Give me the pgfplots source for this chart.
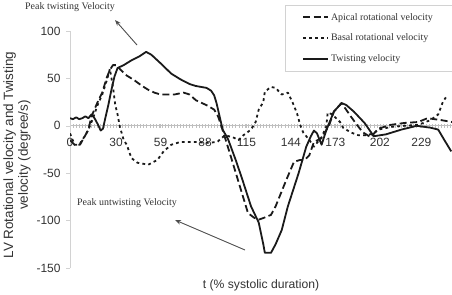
\documentclass[border=0pt]{standalone}
\usepackage{pgfplots}
\pgfplotsset{compat=1.18}
\usepackage{fontspec}
\setmainfont{Liberation Serif}
\setsansfont{Liberation Sans}
\usetikzlibrary{arrows.meta}
\definecolor{axgray}{HTML}{BFBFBF}
\definecolor{txt}{HTML}{333333}
\definecolor{ln}{HTML}{1A1A1A}

\pgfplotstableread{
t v
0 8
2 7
4 9
6 7
8 8
10 10
12 8
14 12
16 8
18 2
20 -5
21.5 -3
23 8
25 22
27 38
29 52
31 61
35 64
40 69
45 73
49.6 78
53 75
59 66
66 55
72 49
78 44
82 42
89 40
92 37
94 32
95.5 24
99.5 -4
103 -14
108 -36
112 -55
118 -85
123 -102
126 -125
127 -134
131 -134
134 -125
138 -110
142 -85
149 -50
154 -22
157 -11
159 -5
161 -8
164 -20
167 -5
172 15
177 24
180 22
185 15
192 3
198 -11
206 -9
216 -4
226 0
235 -2
240 -4
244 -15
248.5 -27
}\twisting

\pgfplotstableread{
t v
0 -15
3 -20
6.5 -20
10 -10
12 -4
14 10
18 25
21 35
24 51
26 59
28 64
30 64
33 59
37 53
42 48
47 42
51 38
55 35
59 33
68 33
74 35
78 33
82 27
90 21
94 17
96.5 10
99 -2
104 -28
110 -60
116 -92
120 -97
123 -99
126.5 -97
131 -94
134 -85
141 -57
146 -38
150 -36
153 -36
156 -31
159 -17
164 -13
169 1
172 15
177 24
183 10
187 1
191 -7
196 -12
201 -3
205 -1
209 1
218 3
227 4
233 8
242 6
249 4
}\apical

\pgfplotstableread{
t v
0 -8
3 -20
6 -20
10 -10
12 -4
15 8
18 22
21 33
24 48
26 60
28 41
29.5 22
31 12
32.5 -1
35 -15
37 -20
40 -34
44 -39
51 -41
57 -36
61 -27
66 -20
72 -17
81 -17
90 -18
96 -17
101 -10
106 -12
110 -15
113 -10
118 -4
121 4
123 17
126 25
127 36
131 41
134 40
138 33
142 35
145 25
148 13
150 1
152 -7
156 -15
159 -22
164 -12
167 -1
168 14
171 12
176 4
178 -2
183 -7
188 -10
193 -10
198 -8
201 -4
210 -1
218 0
227 1
235 6
240 12
243 25
245 30
}\basal

\begin{document}
\begin{tikzpicture}[x=1bp,y=1bp]
\begin{axis}[
  at={(70bp,26bp)}, anchor=south west,
  scale only axis, width=382bp, height=237bp,
  xmin=0, xmax=249, ymin=-150, ymax=100,
  axis x line=middle, axis y line=left,
  x axis line style={-, draw=axgray, line width=0.8bp},
  y axis line style={-, draw=axgray!70, line width=0.8bp},
  hide obscured x ticks=false, hide obscured y ticks=false,
  xtick={0,30,59,88,115,144,173,202,229},
  xticklabels={0,30,59,88,115,144,173,202,229},
  minor xtick={0,2,...,248},
  ytick={-150,-100,-50,0,50,100},
  yticklabels={-150,-100,-50,0,50,100},
  major tick length=4bp, minor tick length=4bp,
  x tick style={draw=axgray, line width=0.5bp},
  y tick style={draw=axgray!70, line width=0.5bp},
  ytick align=outside,
  ticklabel style={font=\sffamily\fontsize{12}{14}\selectfont, text=txt},
  xticklabel style={yshift=-7bp},
  yticklabel style={xshift=-2bp},
  legend style={at={(rel axis cs:1,1.11)}, anchor=north east, draw=axgray!70,
    font=\rmfamily\fontsize{10}{12}\selectfont, text=txt, row sep=8.5bp,
    inner xsep=17bp, inner ysep=6bp, fill=white},
  legend cell align=left,
  legend image code/.code={\draw[#1] (0bp,0bp) -- (25bp,0bp);},
]
\addplot[ln, line width=1.8bp, dash pattern=on 7bp off 3.5bp, line join=round] table[x=t,y=v] {\apical};
\addlegendentry{Apical rotational velocity}
\addplot[ln, line width=1.8bp, dash pattern=on 2.8bp off 3.2bp, line join=round] table[x=t,y=v] {\basal};
\addlegendentry{Basal rotational velocity}
\addplot[ln, line width=1.8bp, line join=round] table[x=t,y=v] {\twisting};
\addlegendentry{Twisting velocity}
\end{axis}
\node[font=\rmfamily\fontsize{10}{12}\selectfont, text=txt] at (70,287) {Peak twisting Velocity};
\draw[-{Stealth[length=6bp,width=4.5bp]}, line width=0.9bp, draw=black!70] (137,249) -- (115,274);
\node[font=\rmfamily\fontsize{10}{12}\selectfont, text=txt] at (127,91) {Peak untwisting Velocity};
\draw[-{Stealth[length=6bp,width=4.5bp]}, line width=0.9bp, draw=black!70] (245,44) -- (175,74);
\node[rotate=90, align=center, font=\sffamily\fontsize{13.5}{15}\selectfont, text=txt] at (17,139) {LV Rotational velocity and Twisting\\velocity (degree/s)};
\node[font=\sffamily\fontsize{12.2}{14}\selectfont, text=txt] at (261,9) {t (\% systolic duration)};
\pgfresetboundingbox
\useasboundingbox (0,0) rectangle (452,294);
\end{tikzpicture}
\end{document}
